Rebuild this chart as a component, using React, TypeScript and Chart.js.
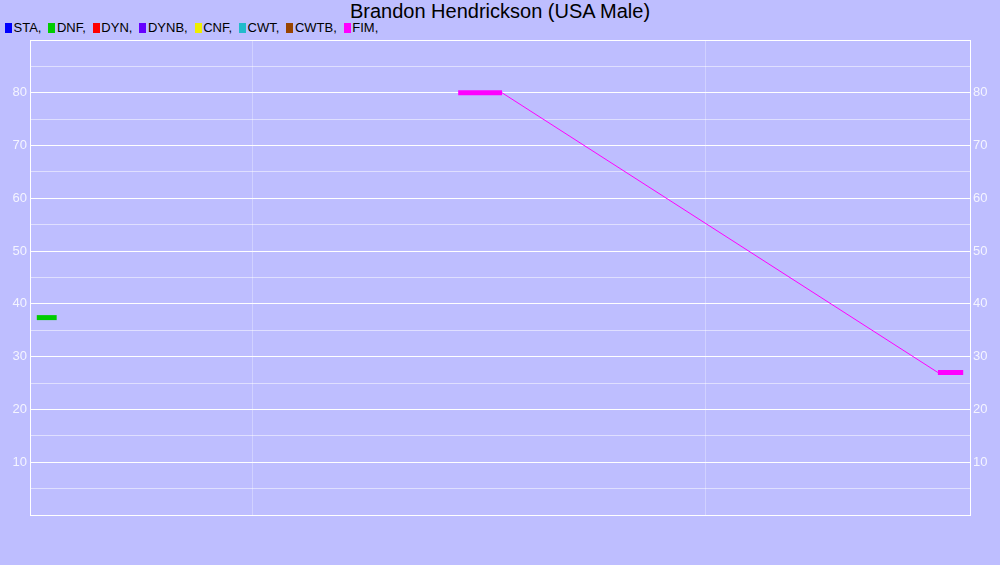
import React, { useEffect, useRef } from "react";
import { Chart, registerables } from "chart.js";

Chart.register(...registerables);

const title = "Brandon Hendrickson (USA Male)";
const disciplines = ["STA", "DNF", "DYN", "DYNB", "CNF", "CWT", "CWTB", "FIM"];
const disciplineColors = ["#0000ff", "#00cc00", "#ff0000", "#6600ff", "#eeee00", "#22bbcc", "#994400", "#ff00ff"];

// x values are fractional years; each record is a short horizontal segment (start, end)
const dnfX = [2011.522, 2011.566];
const dnfY = [37.4, 37.4];
const fimX = [2012.454, 2012.551, 2013.515, 2013.571];
const fimY = [80, 80, 27, 27];

const xMin = 2011.507;
const xMax = 2013.586;
const yearLines = [2012, 2013];
const yMin = 0;
const yMax = 90;
const yStep = 5;
const yLabelMin = 10;
const yLabelMax = 80;

const BG = "rgb(190,190,255)";
const MINOR = "rgba(255,255,255,0.3)";

function yTickCb(v: any) {
  const n = Number(v);
  if (n % 10 === 0 && n >= yLabelMin && n <= yLabelMax) return String(n);
  return "";
}

function yGridColor(ctx: any) {
  const v = ctx.tick ? ctx.tick.value : 0;
  return v % 10 === 0 ? "#ffffff" : MINOR;
}

export default function App() {
  const ref = useRef<HTMLCanvasElement>(null);
  useEffect(() => {
    const el = ref.current;
    if (!el) return;
    const yScaleBase = (position: string) => ({
      type: "linear" as const,
      position,
      min: yMin,
      max: yMax,
      afterFit: (s: any) => {
        s.width = 30;
      },
      ticks: {
        stepSize: yStep,
        autoSkip: false,
        padding: 3,
        color: "#f4f4ff",
        font: { family: "'Liberation Sans', Arial, sans-serif", size: 13 },
        callback: yTickCb,
      },
      grid: { color: yGridColor, lineWidth: 1, drawTicks: false },
      border: { display: true, color: "#ffffff", width: 1 },
    });
    const chart = new Chart(el, {
      type: "line",
      data: {
        datasets: [
          {
            label: "DNF",
            data: dnfX.map((x, i) => ({ x, y: dnfY[i] })),
            borderColor: disciplineColors[1],
            borderWidth: 5,
            borderCapStyle: "butt",
            pointRadius: 0,
            fill: false,
          },
          {
            label: "FIM",
            data: fimX.map((x, i) => ({ x, y: fimY[i] })),
            borderColor: disciplineColors[7],
            borderWidth: 5,
            borderCapStyle: "butt",
            pointRadius: 0,
            fill: false,
            segment: {
              borderWidth: (c: any) => (c.p0DataIndex % 2 === 0 ? 5 : 1),
            },
          } as any,
        ],
      },
      options: {
        responsive: false,
        animation: false,
        maintainAspectRatio: false,
        layout: { padding: { top: 40, bottom: 50, left: 0, right: 0 } },
        plugins: { legend: { display: false }, title: { display: false }, tooltip: { enabled: false } },
        scales: {
          x: {
            type: "linear",
            min: xMin,
            max: xMax,
            afterBuildTicks: (s: any) => {
              s.ticks = yearLines.map((v) => ({ value: v }));
            },
            afterFit: (s: any) => {
              s.height = 0;
            },
            ticks: { display: false },
            grid: { color: MINOR, lineWidth: 1, drawTicks: false },
            border: { display: true, color: "#ffffff", width: 1 },
          },
          y: yScaleBase("left") as any,
          y2: yScaleBase("right") as any,
        },
      },
    });
    return () => chart.destroy();
  }, []);

  const font = "'Liberation Sans', Arial, sans-serif";
  return (
    <div style={{ position: "fixed", left: 0, top: 0, width: 1000, height: 565, background: BG, fontFamily: font, overflow: "hidden" }}>
      <div style={{ position: "absolute", left: 0, top: 0, width: 1000, textAlign: "center", fontSize: 20, lineHeight: "22px", color: "#000" }}>
        {title}
      </div>
      <div style={{ position: "absolute", left: 5, top: 20, display: "flex", alignItems: "center", fontSize: 13, lineHeight: "16px", color: "#000", whiteSpace: "nowrap" }}>
        {disciplines.map((d, i) => (
          <div key={d} style={{ display: "flex", alignItems: "center", marginRight: 7 }}>
            <span style={{ display: "inline-block", width: 7, height: 10, background: disciplineColors[i], marginRight: 1.5 }} />
            <span>{d},</span>
          </div>
        ))}
      </div>
      <canvas ref={ref} width={1000} height={565} style={{ position: "absolute", left: 0, top: 0, width: 1000, height: 565 }} />
    </div>
  );
}
